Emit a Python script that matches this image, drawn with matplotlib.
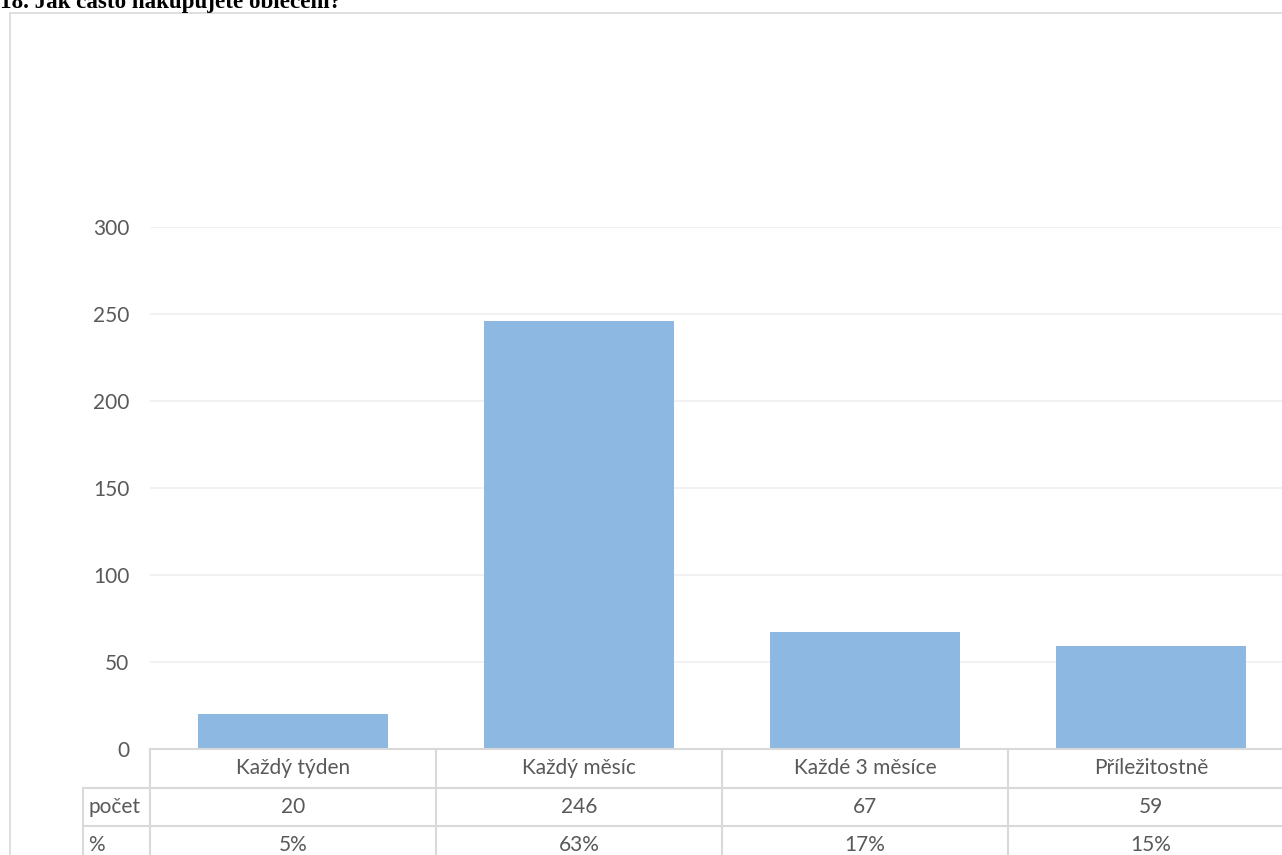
"""Bar chart with data table: how often people buy clothes (survey question 18)."""

import matplotlib
matplotlib.use("Agg")
import matplotlib.pyplot as plt
from matplotlib.lines import Line2D
from matplotlib.patches import Rectangle

# data
categories = ["Každý týden", "Každý měsíc", "Každé 3 měsíce", "Příležitostně"]
counts = [20, 246, 67, 59]
percents = ["5%", "63%", "17%", "15%"]
row_labels = ["počet", "%"]
y_ticks = [0, 50, 100, 150, 200, 250, 300]
title = "18. Jak často nakupujete oblečení?"

W, H = 1282, 855
text_color = "#595959"
line_color = "#d9d9d9"
bar_color = "#8db8e1"

plt.rcParams["font.family"] = ["Lato", "DejaVu Sans"]

fig = plt.figure(figsize=(W / 100, H / 100), dpi=100)


def fx(px):
    return px / W


def fy(py):
    # pixel row from the top -> figure fraction
    return 1 - py / H


# chart frame (only left and top edges are visible in the crop)
fig.add_artist(Rectangle((fx(10), fy(900)), fx(1400), fy(13) - fy(900),
                         transform=fig.transFigure, fill=False,
                         edgecolor=line_color, lw=1.2))

# title sits partly above the top edge, as in the source screenshot
fig.text(fx(0), fy(8), title, ha="left", va="baseline",
         fontsize=16.6, fontweight="bold",
         family=["Liberation Serif", "DejaVu Serif"], color="black")

# main plot area
x_left, x_right = 150, 1294
y_zero, y_top = 749, 227
ax = fig.add_axes([fx(x_left), fy(y_zero), fx(x_right - x_left),
                   fy(y_top) - fy(y_zero)])
xs = list(range(len(categories)))
ax.bar(xs, counts, width=0.665, color=bar_color, zorder=2)
ax.set_xlim(-0.5, len(categories) - 0.5)
ax.set_ylim(0, 300)
ax.set_yticks(y_ticks)
ax.tick_params(axis="y", length=0, pad=15, labelsize=15, labelcolor=text_color)
ax.set_xticks([])
for s in ax.spines.values():
    s.set_visible(False)
ax.yaxis.grid(True, color="#efefef", lw=1.2, zorder=0)
ax.set_facecolor("none")

# data table under the axis
row_h = 38.5
n_rows = 1 + len(row_labels)
tax = fig.add_axes([fx(x_left), fy(y_zero + n_rows * row_h),
                    fx(x_right - x_left), fy(y_zero) - fy(y_zero + n_rows * row_h)])
tax.set_xlim(-0.5, len(categories) - 0.5)
tax.set_ylim(n_rows, 0)
tax.axis("off")

cat_px = (x_right - x_left) / len(categories)
label_x0 = -0.5 - 67 / cat_px
right_end = len(categories) - 0.5

kw = dict(color=line_color, lw=1.5, clip_on=False)
tax.add_line(Line2D([-0.5, right_end], [0, 0], **kw))
for r in range(1, n_rows + 1):
    tax.add_line(Line2D([label_x0, right_end], [r, r], **kw))
for k in range(len(categories) + 1):
    tax.add_line(Line2D([k - 0.5, k - 0.5], [0, n_rows], **kw))
tax.add_line(Line2D([label_x0, label_x0], [1, n_rows], **kw))

fs = 15
for i, cat in enumerate(categories):
    tax.text(i, 0.5, cat, ha="center", va="center", fontsize=fs,
             color=text_color, clip_on=False)
    tax.text(i, 1.5, str(counts[i]), ha="center", va="center", fontsize=fs,
             color=text_color, clip_on=False)
    tax.text(i, 2.5, percents[i], ha="center", va="center", fontsize=fs,
             color=text_color, clip_on=False)
for r, lab in enumerate(row_labels):
    tax.text(label_x0 + 5 / cat_px, r + 1.5, lab, ha="left", va="center",
             fontsize=fs, color=text_color, clip_on=False)

fig.savefig("out.png", dpi=100)
